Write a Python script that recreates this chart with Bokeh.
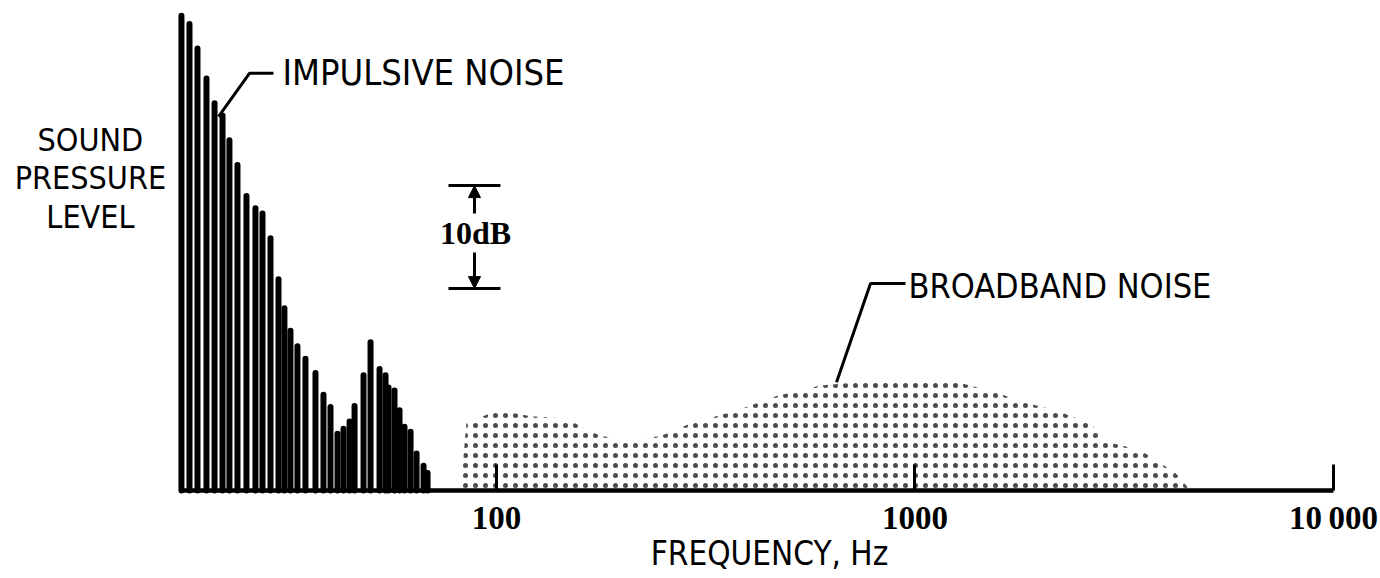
from bokeh.plotting import figure
from bokeh.models import Range1d, FixedTicker, Label, Arrow, NormalHead
from bokeh.embed import file_html
from bokeh.resources import INLINE

# ---------------- data ----------------
# impulsive noise: spectral lines (frequency Hz, level dB above baseline)
impulse_freq = [17.67, 18.47, 19.30, 20.28, 21.20, 22.15, 23.01, 24.05, 25.27, 26.55,
                27.60, 28.84, 30.14, 31.14, 32.19, 33.45, 34.96, 36.94, 38.60, 40.12,
                41.70, 43.10, 44.56, 45.80, 48.12, 50.01, 52.55, 54.31, 55.21, 57.06,
                58.66, 60.29, 62.33, 64.42, 66.95, 68.44]
impulse_level = [46.1, 45.3, 42.9, 40.0, 37.6, 36.4, 34.0, 31.6, 28.6, 27.4,
                 26.9, 24.5, 20.5, 17.7, 15.5, 14.0, 12.8, 11.4, 9.3, 8.1,
                 5.5, 6.0, 6.7, 8.2, 11.2, 14.4, 11.8, 11.2, 10.0, 9.7,
                 7.8, 6.2, 5.7, 3.6, 2.4, 1.7]

# broadband noise envelope (frequency Hz, level dB)
broad_freq = [82.03, 84.78, 101.1, 120.6, 146.1, 177.2, 209.0, 246.6, 290.8, 376.6,
              469.3, 594.6, 827.0, 1263, 1575, 1767, 2167, 2627, 2884, 3457, 4193, 4552]
broad_level = [0.0, 6.6, 7.8, 7.2, 7.0, 5.3, 4.9, 5.3, 6.5, 7.8,
               9.2, 10.2, 10.7, 10.5, 9.5, 8.7, 7.8, 6.5, 4.7, 3.9, 1.7, 0.0]

tick_values = [100, 1000, 10000]
tick_labels = ["100", "1000", "10\u2009000"]
axis_start, axis_end = 17.58, 10000

SANS = "DejaVu Sans Condensed, DejaVu Sans"
SERIF = "Liberation Serif"

# ---------------- figure ----------------
p = figure(frame_width=1380, frame_height=578, x_axis_type="log",
           x_range=Range1d(6.5297, 12950), y_range=Range1d(-8.544, 47.57),
           output_backend="svg", toolbar_location=None, y_axis_location=None,
           min_border=0)
p.outline_line_color = None
p.grid.visible = False
p.background_fill_color = "white"
p.border_fill_color = "white"

ax = p.xaxis[0]
ax.fixed_location = 0
ax.ticker = FixedTicker(ticks=tick_values)
ax.major_label_overrides = {v: l for v, l in zip(tick_values, tick_labels)}
ax.axis_line_color = None
ax.major_tick_in = 26
ax.major_tick_out = 0
ax.major_tick_line_width = 3
ax.major_tick_line_color = "black"
ax.minor_tick_line_color = None
ax.major_label_standoff = 10
ax.major_label_text_font = SERIF
ax.major_label_text_font_style = "bold"
ax.major_label_text_font_size = "33px"
ax.major_label_text_color = "black"

# baseline (frequency axis line)
p.segment(x0=[axis_start], y0=[0], x1=[axis_end], y1=[0], line_color="black", line_width=4.5)

# broadband stipple (light, sparse dots)
p.varea(x=broad_freq, y1=[0] * len(broad_freq), y2=broad_level,
        fill_color=None, fill_alpha=0, hatch_pattern="dot", hatch_color="black",
        hatch_scale=10, hatch_weight=0.1, hatch_alpha=0.7)

# impulsive lines
p.segment(x0=impulse_freq, y0=[0] * len(impulse_freq), x1=impulse_freq, y1=impulse_level,
          line_color="black", line_width=6, line_cap="round")

# leader lines
p.line(x=[21.67, 25.69, 29.32], y=[36.3, 40.5, 40.5], line_color="black", line_width=3)
p.line(x=[649.4, 782.9, 949.0], y=[10.5, 20.1, 20.1], line_color="black", line_width=3)

# 10 dB marker
p.segment(x0=[76.8, 76.8], y0=[29.6, 19.6], x1=[102.2, 102.2], y1=[29.6, 19.6],
          line_color="black", line_width=3)
p.add_layout(Arrow(end=NormalHead(size=12, fill_color="black", line_color="black"),
                   x_start=88.6, y_start=26.9, x_end=88.6, y_end=29.6,
                   line_color="black", line_width=3))
p.add_layout(Arrow(end=NormalHead(size=12, fill_color="black", line_color="black"),
                   x_start=88.6, y_start=23.1, x_end=88.6, y_end=19.6,
                   line_color="black", line_width=3))


def lab(x, y, text, size, font=SANS, align="left", style="normal"):
    p.add_layout(Label(x=x, y=y, text=text, text_font=font, text_font_size=size,
                       text_align=align, text_baseline="middle", text_color="black",
                       text_font_style=style))


lab(30.81, 40.58, "IMPULSIVE NOISE", "36px")
lab(964.8, 19.85, "BROADBAND NOISE", "34px")
lab(89.1, 25.0, "10dB", "32px", font=SERIF, align="center", style="bold")
lab(10.71, 33.98, "SOUND", "32px", align="center")
lab(10.71, 30.34, "PRESSURE", "32px", align="center")
lab(10.71, 26.60, "LEVEL", "32px", align="center")
lab(449.1, -6.07, "FREQUENCY, Hz", "33px", align="center")

open("out.html", "w").write(file_html(p, INLINE))
